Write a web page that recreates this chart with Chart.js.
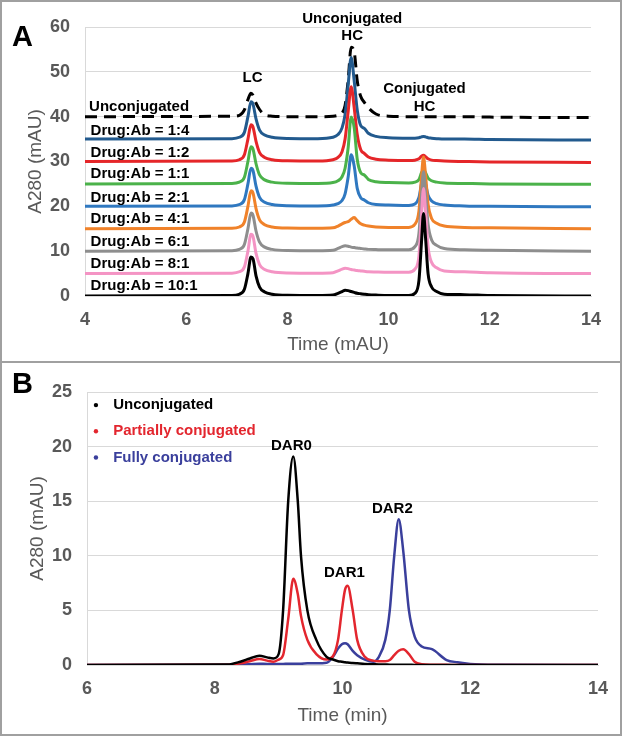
<!DOCTYPE html>
<html>
<head>
<meta charset="utf-8">
<script src="https://cdn.jsdelivr.net/npm/chart.js@4.4.1/dist/chart.umd.min.js"></script>
<style>
  body { margin: 0; background: #fff; }
  #panelA { position: absolute; left: 0; top: 0; width: 622px; height: 361px; }
  #panelB { position: absolute; left: 0; top: 363px; width: 622px; height: 373px; }
  #sep { position: absolute; left: 0; top: 361px; width: 622px; height: 2px; background: #a0a0a0; }
  #frame { position: absolute; left: 0; top: 0; width: 622px; height: 736px; box-sizing: border-box;
           border: 2px solid #a0a0a0; pointer-events: none; }
</style>
</head>
<body>
<div id="panelA"><canvas id="chartA"></canvas></div>
<div id="sep"></div>
<div id="panelB"><canvas id="chartB"></canvas></div>
<div id="frame"></div>
<script>
// ---- panel A: stacked chromatograms (values already include the offset of each trace)
var timeA = [4.0, 6.9, 7.05, 7.15, 7.22, 7.28, 7.32, 7.38, 7.45, 7.55, 7.7, 8.0, 8.6, 8.9, 9.0, 9.08,
  9.14, 9.2, 9.26, 9.32, 9.38, 9.45, 9.52, 9.6, 9.75, 10.0, 10.4, 10.52, 10.6, 10.65, 10.69, 10.73,
  10.78, 10.85, 10.95, 11.1, 11.5, 12.0, 14.0];

var unconjA = [40, 40.1, 40.3, 41.5, 43.8, 45.2, 44.8, 43.0, 41.6, 40.4, 40.1, 40, 40, 40.1, 40.3, 40.8,
  42.5, 48, 55.5, 54.5, 48, 44.5, 43.2, 42, 40.6, 40.1, 40, 40, 40, 40, 40, 40,
  40, 40, 40, 40, 40, 39.9, 39.8];
var ratio1to4 = [35, 35.1, 35.4, 36.5, 40, 43.3, 42.8, 39.5, 37, 35.9, 35.4, 35.15, 35.1, 35.4, 36, 37.5,
  40.5, 47, 53.2, 48, 41.5, 38, 37.4, 36.3, 35.6, 35.3, 35.2, 35.2, 35.3, 35.5, 35.6, 35.5,
  35.3, 35.2, 35.1, 35, 35, 34.9, 34.8];
var ratio1to2 = [30, 30.1, 30.4, 31.5, 35, 38.2, 37.7, 34.5, 32, 30.9, 30.4, 30.15, 30.1, 30.4, 30.9, 32.2,
  35, 41, 46.7, 42, 36, 32.6, 31.8, 31, 30.5, 30.3, 30.2, 30.3, 30.6, 31.2, 31.4, 31.1,
  30.6, 30.3, 30.2, 30.1, 30, 29.9, 29.8];
var ratio1to1 = [25, 25.1, 25.4, 26.5, 30, 33.3, 32.8, 29.5, 27, 25.9, 25.4, 25.15, 25.1, 25.3, 25.7, 26.6,
  28.5, 33, 39.9, 37.5, 30.5, 27.5, 27, 26, 25.5, 25.3, 25.2, 25.4, 26, 27.5, 28.2, 27.5,
  26.3, 25.7, 25.4, 25.2, 25.1, 25, 24.9];
var ratio2to1 = [20, 20.1, 20.4, 21.5, 25, 28.5, 28, 24.5, 22, 20.9, 20.4, 20.15, 20.1, 20.3, 20.6, 21.3,
  22.8, 26.5, 31.5, 29, 24, 21.9, 21.4, 20.8, 20.4, 20.3, 20.2, 20.5, 22, 25, 26.5, 25,
  22.5, 21.2, 20.6, 20.3, 20.1, 20, 19.9];
var ratio4to1 = [15, 15.1, 15.4, 16.5, 20, 23.5, 23, 19.5, 17, 15.9, 15.4, 15.15, 15.1, 15.2, 15.6, 16.1,
  16.4, 16.6, 17.1, 17.5, 16.8, 16.1, 15.8, 15.6, 15.4, 15.3, 15.3, 16, 19, 26.5, 31, 27,
  20.5, 17.3, 16.2, 15.6, 15.3, 15.2, 15];
var ratio6to1 = [10, 10.1, 10.4, 11.5, 15, 18.5, 18, 14.5, 12, 10.9, 10.4, 10.15, 10.1, 10.2, 10.6, 11.0,
  11.2, 11.1, 10.9, 10.8, 10.7, 10.6, 10.5, 10.4, 10.35, 10.3, 10.3, 11, 14, 22.5, 27.7, 23,
  16, 12.5, 11.3, 10.6, 10.3, 10.2, 10];
var ratio8to1 = [5, 5.1, 5.4, 6.5, 10, 13.8, 13.3, 9.5, 7, 5.9, 5.4, 5.15, 5.1, 5.2, 5.6, 6.0,
  6.2, 6.1, 5.9, 5.8, 5.7, 5.6, 5.5, 5.4, 5.35, 5.3, 5.3, 6, 9, 18, 24, 19,
  11, 7.5, 6.3, 5.6, 5.4, 5.2, 5];
var ratio10to1 = [0, 0.1, 0.4, 1.5, 5, 8.7, 8.3, 4.5, 2, 0.9, 0.4, 0.15, 0.1, 0.2, 0.6, 1.0,
  1.3, 1.2, 1.0, 0.8, 0.6, 0.5, 0.4, 0.3, 0.2, 0.1, 0.1, 0.6, 3.5, 12, 18.4, 13,
  5, 2, 1, 0.4, 0.3, 0.1, 0];

var namesA = ['Unconjugated', 'Drug:Ab = 1:4', 'Drug:Ab = 1:2', 'Drug:Ab = 1:1', 'Drug:Ab = 2:1',
  'Drug:Ab = 4:1', 'Drug:Ab = 6:1', 'Drug:Ab = 8:1', 'Drug:Ab = 10:1'];
var seriesA = [unconjA, ratio1to4, ratio1to2, ratio1to1, ratio2to1, ratio4to1, ratio6to1, ratio8to1, ratio10to1];
var colorsA = ['#000000', '#225a8e', '#e52629', '#4bb24a', '#2f78c0', '#f0822a', '#8e8e8e', '#f494c4', '#000000'];
var yTicksA = [0, 10, 20, 30, 40, 50, 60];
var xTicksA = [4, 6, 8, 10, 12, 14];

// ---- panel B
var timeB = [6.0, 8.2, 8.4, 8.55, 8.7, 8.82, 8.92, 9.0, 9.07, 9.15, 9.23, 9.3, 9.35, 9.45, 9.59, 9.75,
  9.85, 9.93, 9.99, 10.04, 10.08, 10.16, 10.23, 10.35, 10.48, 10.57, 10.67, 10.74, 10.81, 10.88,
  10.95, 11.04, 11.13, 11.24, 11.4, 11.63, 11.8, 12.0, 12.5, 14.0];
var unconjB = [0, 0.05, 0.3, 0.6, 0.85, 0.7, 0.6, 1.0, 5, 15, 19.1, 15, 10, 5, 2.3, 0.75,
  0.5, 0.35, 0.3, 0.25, 0.22, 0.18, 0.15, 0.1, 0.07, 0.05, 0.04, 0.03, 0.03, 0.02,
  0.02, 0.02, 0.01, 0.01, 0, 0, 0, 0, 0, 0];
var partialB = [0, 0.03, 0.15, 0.35, 0.55, 0.4, 0.3, 0.5, 0.9, 4.2, 7.9, 6.5, 4.5, 2.3, 1.0, 0.5,
  0.8, 2.3, 5, 6.9, 7.25, 5, 2.3, 0.75, 0.4, 0.35, 0.35, 0.45, 0.9, 1.3,
  1.44, 1.0, 0.3, 0.08, 0.03, 0.02, 0, 0, 0, 0];
var fullB = [0, 0.02, 0.05, 0.08, 0.12, 0.1, 0.1, 0.1, 0.1, 0.12, 0.12, 0.12, 0.12, 0.15, 0.15, 0.2,
  0.75, 1.5, 1.9, 2.0, 1.9, 1.3, 0.9, 0.5, 0.3, 0.75, 2.3, 5, 10, 13.35,
  10.5, 5, 2.6, 1.7, 1.45, 0.45, 0.25, 0.1, 0.03, 0];
var namesB = ['Unconjugated', 'Partially conjugated', 'Fully conjugated'];
var colorsB = ['#000000', '#e3262e', '#3a3f9c'];
var yTicksB = [0, 5, 10, 15, 20, 25];
var xTicksB = [6, 8, 10, 12, 14];

var FONT = '"Liberation Sans", Arial, sans-serif';

function toPoints(times, vals) {
  return times.map(function(t, i) { return { x: t, y: vals[i] }; });
}

// text labels, legend and panel letter drawn on top of the plot
var labelPlugin = {
  id: 'peakLabels',
  afterDatasetsDraw: function(chart, args, opts) {
    var ctx = chart.ctx;
    var xs = chart.scales.x, ys = chart.scales.y;
    ctx.save();
    ctx.textBaseline = 'middle';
    ctx.font = 'bold 15px ' + FONT;
    (opts.items || []).forEach(function(it) {
      ctx.fillStyle = it.color || '#000';
      ctx.textAlign = it.align || 'center';
      ctx.fillText(it.text, xs.getPixelForValue(it.x), ys.getPixelForValue(it.y));
    });
    if (opts.legend) {
      var lg = opts.legend;
      chart.data.datasets.forEach(function(ds, i) {
        var py = ys.getPixelForValue(lg.y[i]);
        ctx.fillStyle = ds.borderColor;
        ctx.beginPath();
        ctx.arc(xs.getPixelForValue(lg.dotX), py, 2.2, 0, Math.PI * 2);
        ctx.fill();
        ctx.textAlign = 'left';
        ctx.fillText(ds.label, xs.getPixelForValue(lg.x), py);
      });
    }
    ctx.fillStyle = '#000';
    ctx.textAlign = 'left';
    ctx.textBaseline = 'alphabetic';
    ctx.font = 'bold 29px ' + FONT;
    ctx.fillText(opts.letter, 12, opts.letterY);
    ctx.restore();
  }
};

function axisOptions(min, max, step, title, isY, size, titlePad) {
  var o = {
    type: 'linear',
    min: min, max: max,
    ticks: { stepSize: step, color: '#595959', padding: isY ? 15 : 13,
             font: { family: FONT, size: 18, weight: 'bold' } },
    grid: { display: isY, color: '#d9d9d9', lineWidth: 1, drawTicks: false },
    border: { display: true, color: '#d9d9d9' },
    title: { display: true, text: title, color: '#595959', padding: { top: 4, bottom: titlePad },
             font: { family: FONT, size: 19 } }
  };
  if (isY) o.afterFit = function(scale) { scale.width = size; };
  else o.afterFit = function(scale) { scale.height = size; };
  return o;
}

var dsA = seriesA.map(function(vals, i) {
  return {
    label: namesA[i],
    data: toPoints(timeA, vals),
    borderColor: colorsA[i],
    borderWidth: 3,
    borderDash: i === 0 ? [12, 7] : [],
    pointRadius: 0,
    cubicInterpolationMode: 'monotone',
    fill: false,
    order: seriesA.length - 1 - i
  };
});

var labelsA = [{ text: 'Unconjugated', x: 4.08, y: 42.2, align: 'left' }];
[36.9, 32.0, 27.2, 22.0, 17.1, 12.1, 7.1, 2.2].forEach(function(y, i) {
  labelsA.push({ text: namesA[i + 1], x: 4.11, y: y, align: 'left' });
});
labelsA.push({ text: 'LC', x: 7.31, y: 48.6 });
labelsA.push({ text: 'Unconjugated', x: 9.28, y: 61.9 });
labelsA.push({ text: 'HC', x: 9.28, y: 58.0 });
labelsA.push({ text: 'Conjugated', x: 10.71, y: 46.1 });
labelsA.push({ text: 'HC', x: 10.71, y: 42.2 });

new Chart(document.getElementById('chartA'), {
  type: 'line',
  data: { datasets: dsA },
  plugins: [labelPlugin],
  options: {
    responsive: true,
    maintainAspectRatio: false,
    animation: false,
    layout: { padding: { left: 20, top: 27, right: 31, bottom: 0 } },
    scales: {
      x: axisOptions(4, 14, 2, 'Time (mAU)', false, 65, 5),
      y: axisOptions(0, 60, 10, 'A280 (mAU)', true, 65, 4)
    },
    plugins: {
      legend: { display: false },
      tooltip: { enabled: false },
      peakLabels: { items: labelsA, letter: 'A', letterY: 46 }
    }
  }
});

var dsB = [unconjB, partialB, fullB].map(function(vals, i) {
  return {
    label: namesB[i],
    data: toPoints(timeB, vals),
    borderColor: colorsB[i],
    borderWidth: 2.5,
    pointRadius: 0,
    cubicInterpolationMode: 'monotone',
    fill: false
  };
});

new Chart(document.getElementById('chartB'), {
  type: 'line',
  data: { datasets: dsB },
  plugins: [labelPlugin],
  options: {
    responsive: true,
    maintainAspectRatio: false,
    animation: false,
    layout: { padding: { left: 22, top: 29, right: 24, bottom: 0 } },
    scales: {
      x: axisOptions(6, 14, 2, 'Time (min)', false, 71, 9),
      y: axisOptions(0, 25, 5, 'A280 (mAU)', true, 65, 4)
    },
    plugins: {
      legend: { display: false },
      tooltip: { enabled: false },
      peakLabels: {
        items: [
          { text: 'DAR0', x: 9.2, y: 20.1 },
          { text: 'DAR1', x: 10.03, y: 8.4 },
          { text: 'DAR2', x: 10.78, y: 14.3 }
        ],
        legend: { x: 6.41, dotX: 6.14, y: [23.8, 21.4, 19.0] },
        letter: 'B', letterY: 30
      }
    }
  }
});
</script>
</body>
</html>
